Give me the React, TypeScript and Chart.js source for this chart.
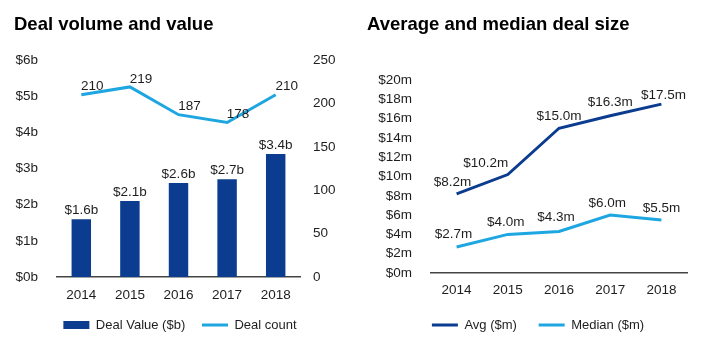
import React, { useEffect, useRef } from "react";
import { Chart, registerables } from "chart.js";

Chart.register(...registerables);

const years = ["2014", "2015", "2016", "2017", "2018"];
const dealValue = [1.6, 2.1, 2.6, 2.7, 3.4];
const dealCount = [210, 219, 187, 178, 210];
const avgSize = [8.2, 10.2, 15.0, 16.3, 17.5];
const medianSize = [2.7, 4.0, 4.3, 6.0, 5.5];

const NAVY = "#0b3c8f";
const SKY = "#1ea6e1";
const FONT = "'Liberation Sans', Arial, Helvetica, sans-serif";
const TEXT = "#1e1e1e";
const AXIS = "#444444";

const valueLabels = {
  id: "valueLabels",
  afterDatasetsDraw(chart: any, _args: any, opts: any) {
    const ctx = chart.ctx;
    (opts.items || []).forEach((item: any) => {
      const meta = chart.getDatasetMeta(item.dataset);
      const data = chart.data.datasets[item.dataset].data;
      ctx.save();
      ctx.font = `${opts.size || 13.5}px ${FONT}`;
      ctx.fillStyle = TEXT;
      ctx.textAlign = "center";
      ctx.textBaseline = "middle";
      meta.data.forEach((el: any, i: number) => {
        const dx = Array.isArray(item.dx) ? item.dx[i] : item.dx || 0;
        const dy = Array.isArray(item.dy) ? item.dy[i] : item.dy || 0;
        ctx.fillText(item.format(data[i]), el.x + dx, el.y + dy);
      });
      ctx.restore();
    });
  },
};

function legendLabels(padding: number) {
  return {
    usePointStyle: true,
    pointStyleWidth: 26,
    boxHeight: 8,
    padding,
    color: TEXT,
    font: { size: 13, family: FONT },
    generateLabels(chart: any) {
      const base = (Chart.defaults.plugins.legend.labels as any).generateLabels(chart);
      return base.map((it: any) => {
        const ds = chart.data.datasets[it.datasetIndex];
        const isLine = (ds.type || chart.config.type) === "line";
        if (isLine) {
          it.pointStyle = "line";
          it.strokeStyle = ds.borderColor;
          it.lineWidth = 3;
        } else {
          it.pointStyle = "rect";
          it.fillStyle = ds.backgroundColor;
          it.lineWidth = 0;
        }
        return it;
      });
    },
  };
}

const tickFont = { size: 13.5, family: FONT };
const xTickFont = { size: 13.5, family: FONT, lineHeight: 1 };

function LeftChart() {
  const ref = useRef<HTMLCanvasElement>(null);
  useEffect(() => {
    const chart = new Chart(ref.current!, {
      type: "bar",
      data: {
        labels: years,
        datasets: [
          {
            type: "bar",
            label: "Deal Value ($b)",
            data: dealValue,
            backgroundColor: NAVY,
            borderWidth: 0,
            barPercentage: 0.4,
            categoryPercentage: 1,
            yAxisID: "y",
          } as any,
          {
            type: "line",
            label: "Deal count",
            data: dealCount,
            borderColor: SKY,
            backgroundColor: SKY,
            borderWidth: 3,
            pointRadius: 0,
            tension: 0,
            yAxisID: "y1",
          } as any,
        ],
      },
      options: {
        responsive: false,
        animation: false,
        devicePixelRatio: 1,
        layout: { padding: { top: 60, left: 0, right: 0, bottom: 12.5 } },
        scales: {
          x: {
            grid: { display: false, drawTicks: true, tickLength: 11.25 },
            border: { display: true, color: AXIS, width: 1.5 },
            ticks: { color: TEXT, font: xTickFont, padding: 0 },
          },
          y: {
            position: "left",
            min: 0,
            max: 6,
            grid: { display: false },
            border: { display: false },
            ticks: {
              stepSize: 1,
              color: TEXT,
              font: tickFont,
              padding: 11,
              callback: (v: any) => `$${v}b`,
            },
            afterFit: (s: any) => {
              s.width = 57;
            },
          },
          y1: {
            position: "right",
            min: 0,
            max: 250,
            grid: { display: false },
            border: { display: false },
            ticks: { stepSize: 50, color: TEXT, font: tickFont, padding: 5 },
            afterFit: (s: any) => {
              s.width = 60;
            },
          },
        },
        plugins: {
          legend: { position: "bottom", labels: legendLabels(16.75) as any },
          tooltip: { enabled: false },
          valueLabels: {
            size: 13.5,
            items: [
              { dataset: 0, dx: 0, dy: -9, format: (v: number) => `$${v.toFixed(1)}b` },
              { dataset: 1, dx: 11, dy: -8, format: (v: number) => `${v}` },
            ],
          },
        } as any,
      },
      plugins: [valueLabels],
    });
    return () => chart.destroy();
  }, []);
  return <canvas ref={ref} width={360} height={354} style={{ position: "absolute", left: 0, top: 0 }} />;
}

function RightChart() {
  const ref = useRef<HTMLCanvasElement>(null);
  useEffect(() => {
    const chart = new Chart(ref.current!, {
      type: "line",
      data: {
        labels: years,
        datasets: [
          {
            label: "Avg ($m)",
            data: avgSize,
            borderColor: NAVY,
            backgroundColor: NAVY,
            borderWidth: 3,
            pointRadius: 0,
            tension: 0,
          },
          {
            label: "Median ($m)",
            data: medianSize,
            borderColor: SKY,
            backgroundColor: SKY,
            borderWidth: 3,
            pointRadius: 0,
            tension: 0,
          },
        ],
      },
      options: {
        responsive: false,
        animation: false,
        devicePixelRatio: 1,
        layout: { padding: { top: 80, left: 0, right: 0, bottom: 12.5 } },
        scales: {
          x: {
            offset: true,
            grid: { display: false, offset: true, drawTicks: true, tickLength: 10.25 },
            border: { display: true, color: AXIS, width: 1.5 },
            ticks: { color: TEXT, font: xTickFont, padding: 0 },
          },
          y: {
            position: "left",
            min: 0,
            max: 20,
            grid: { display: false },
            border: { display: false },
            ticks: {
              stepSize: 2,
              color: TEXT,
              font: tickFont,
              padding: 11,
              callback: (v: any) => `$${v}m`,
            },
            afterFit: (s: any) => {
              s.width = 71;
            },
          },
          gutter: {
            type: "linear",
            position: "right",
            display: true,
            grid: { display: false, drawTicks: false },
            border: { display: false },
            ticks: { display: false },
            afterFit: (s: any) => {
              s.width = 29;
            },
          },
        },
        plugins: {
          legend: { position: "bottom", labels: legendLabels(21.75) as any },
          tooltip: { enabled: false },
          valueLabels: {
            size: 13.5,
            items: [
              { dataset: 0, dx: [-4, -22, 0, 0, 2], dy: [-12, -11, -12, -13, -9], format: (v: number) => `$${v.toFixed(1)}m` },
              { dataset: 1, dx: [-3, -2, -3, -3, 0], dy: [-13, -12, -14, -12, -12], format: (v: number) => `$${v.toFixed(1)}m` },
            ],
          },
        } as any,
      },
      plugins: [valueLabels],
    });
    return () => chart.destroy();
  }, []);
  return <canvas ref={ref} width={356} height={354} style={{ position: "absolute", left: 360, top: 0 }} />;
}

const titleStyle: React.CSSProperties = {
  position: "absolute",
  top: 15,
  fontFamily: FONT,
  fontWeight: "bold",
  fontSize: 18.5,
  lineHeight: "18.5px",
  color: "#000",
  whiteSpace: "nowrap",
  margin: 0,
};

export default function App() {
  return (
    <div style={{ position: "absolute", left: 0, top: 0, width: 716, height: 354, background: "#fff", overflow: "hidden" }}>
      <LeftChart />
      <RightChart />
      <div style={{ ...titleStyle, left: 14 }}>Deal volume and value</div>
      <div style={{ ...titleStyle, left: 367 }}>Average and median deal size</div>
    </div>
  );
}
